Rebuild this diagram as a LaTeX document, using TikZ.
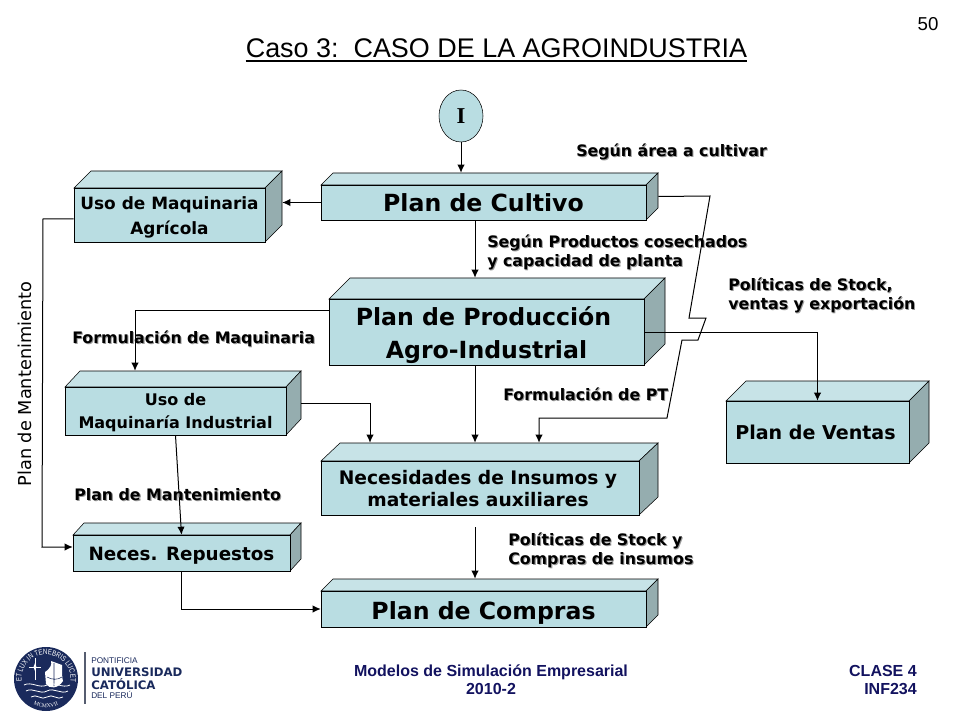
\documentclass[tikz,border=0pt]{standalone}
\usepackage{fontspec}
\setmainfont{DejaVu Sans}
\newfontfamily\arialf{Liberation Sans}
\newfontfamily\timesf{Liberation Serif}
\newfontfamily\lemaf[FakeStretch=0.8]{Liberation Sans}
\usetikzlibrary{shapes,arrows.meta,decorations.text}
\definecolor{cajafrente}{HTML}{B9DDE2}
\definecolor{cajatope}{HTML}{C7E3E7}
\definecolor{cajalado}{HTML}{95ADAF}
\definecolor{pucpazul}{HTML}{1A2A5C}
\definecolor{pieazul}{HTML}{12125F}
\tikzstyle{frente} = [rectangle,draw,fill=cajafrente,inner sep=0pt,align=center]
\tikzstyle{flecha} = [-{Latex[length=6pt,width=5.5pt]},line width=0.75pt]
\tikzstyle{rotulo} = [inner sep=0pt,align=left,anchor=west,font=\fontsize{11.85}{14.2}\selectfont\bfseries]
\tikzstyle{cajaG} = [font=\fontsize{17.7}{24.75}\selectfont\bfseries]
\tikzstyle{cajaP} = [font=\fontsize{12.7}{18.7}\selectfont\bfseries]
\tikzstyle{cajaQ} = [font=\fontsize{12}{17.3}\selectfont\bfseries]
\tikzstyle{cajaM} = [font=\fontsize{14}{16.5}\selectfont\bfseries]
\tikzstyle{pie} = [inner sep=0pt,align=center,text=pieazul,font=\fontsize{12}{13.5}\selectfont\arialf\bfseries]
\newcommand{\sombra}[1]{\leavevmode\rlap{\hspace{.8pt}\raisebox{-.8pt}{\textcolor{black!40}{#1}}}#1}
\newcommand{\bajar}[2]{\raisebox{-#1}[\height][\depth]{#2}}
\newcommand{\caja}[9][]{%
	\draw[fill=cajatope] (#3,#4) -- (#3+#7,#4-#8) -- (#5+#7,#4-#8) -- (#5,#4) -- cycle;
	\draw[fill=cajalado] (#5,#4) -- (#5+#7,#4-#8) -- (#5+#7,#6-#8) -- (#5,#6) -- cycle;
	\node[frente,minimum width={(#5-#3)*0.75pt},minimum height={(#6-#4)*0.75pt},#1](#2) at ({(#3+#5)/2},{(#4+#6)/2}) {#9};
	\node[inner sep=0pt,minimum width={(#5+#7-#3)*0.75pt},minimum height={(#6-#4+#8)*0.75pt}](#2x) at ({(#3+#5+#7)/2},{(#4+#6-#8)/2}) {};
}

\begin{document}
\begin{tikzpicture}[x=0.75pt,y=-0.75pt]
	\useasboundingbox (0,0) rectangle (960,720);

	\node[inner xsep=0pt,inner ysep=2.4pt,font=\fontsize{20.2}{24}\selectfont\arialf](titulo) at (496.5,48) {Caso 3:\ \ CASO DE LA AGROINDUSTRIA};
	\draw[line width=1.4pt] (titulo.south west) -- (titulo.south east);
	\node[font=\fontsize{14}{16}\selectfont\arialf](pagina) at (928,24) {50};

	\node[ellipse,draw,fill=cajafrente,inner sep=0pt,minimum width=33pt,minimum height=39pt,font=\fontsize{17}{18}\selectfont\timesf\bfseries](inicio) at (461,116) {I};

	\caja[cajaG]{cultivo}{321}{185}{646}{220}{12}{12}{Plan de Cultivo}
	\caja[cajaP]{agricola}{74}{188}{265}{242}{17}{17}{\bajar{1.5pt}{Uso de Maquinaria}\\\bajar{1.5pt}{Agrícola}}
	\caja[cajaG]{produccion}{329}{299}{644}{365}{21}{21}{\hspace*{-4.5pt}\bajar{2.2pt}{Plan de Producción}\\\bajar{2.2pt}{Agro-Industrial}}
	\caja[cajaQ]{industrial}{65}{387}{286}{435}{15}{16}{\bajar{1.5pt}{Uso de}\\\bajar{1.5pt}{Maquinaría Industrial}}
	\caja[cajaM,font=\fontsize{14.3}{18}\selectfont\bfseries]{ventas}{726}{401}{909}{463}{20}{20}{\hspace*{-3pt}Plan de Ventas}
	\caja[cajaM]{necesidades}{321}{461}{639}{515}{19}{18}{\hspace*{-3pt}\bajar{0.75pt}{Necesidades de Insumos y}\\\hspace*{-3pt}\bajar{0.75pt}{materiales auxiliares}}
	\caja[font=\fontsize{13.75}{17}\selectfont\bfseries]{repuestos}{73}{535}{290}{571}{11}{12}{\bajar{2.2pt}{Neces. Repuestos}}
	\caja[cajaG]{compras}{321}{591}{646}{627}{12}{12}{\bajar{3pt}{Plan de Compras}}

	\coordinate (ejeC) at (475,0);
	\coordinate (ejeN) at (370,0);
	\coordinate (ejeD) at (539,0);
	\coordinate (codoF) at (135,310);
	\coordinate (codoM) at (43,219);
	\coordinate (codoR) at (42,547);

	\draw[flecha] (inicio) -- (inicio |- cultivox.north);
	\draw[flecha] (cultivo.west) -- (cultivo.west -| agricolax.east);
	\draw[flecha] (ejeC |- cultivo.south) -- (ejeC |- produccionx.north);
	\draw[flecha] (ejeC |- produccion.south) -- (ejeC |- necesidadesx.north);
	\draw[flecha,shorten <=9pt] (ejeC |- necesidades.south) -- (ejeC |- comprasx.north);
	\draw[flecha] (produccion.east) -| (ventas.north);
	\draw[flecha] (cultivox.east) -- (710,196) -- (689,318) -- (706,318) -- (698,340) -- (682,340) -- (667,418) -- (ejeD |- 0,418) -- (ejeD |- necesidadesx.north);
	\draw[flecha] (codoF -| produccion.west) -- (codoF) -- (codoF |- industrialx.north);
	\draw[flecha] (industrialx.east) -| (ejeN |- necesidadesx.north);
	\draw[flecha] (industrial.south) -- (repuestos.north);
	\draw[flecha] (codoM -| agricola.west) -- (codoM) -- (codoR) -- (codoR -| repuestos.west);
	\draw[flecha] (repuestos.south) |- (compras.west);

	\node[rotulo](areacultivo) at (576,152.5) {\sombra{Según área a cultivar}};
	\node[rotulo](cosechados) at (487,253) {\sombra{Según Productos cosechados}\\\sombra{y capacidad de planta}};
	\node[rotulo](stockventas) at (728,296) {\sombra{Políticas de Stock,}\\\sombra{ventas y exportación}};
	\node[rotulo](formmaq) at (72,339.5) {\sombra{Formulación de Maquinaria}};
	\node[rotulo](formpt) at (503,395) {\sombra{Formulación de PT}};
	\node[rotulo](planmant) at (74,495) {\sombra{Plan de Mantenimiento}};
	\node[rotulo](stockcompras) at (508,550.5) {\sombra{Políticas de Stock y}\\\sombra{Compras de insumos}};
	\node[rotate=90,inner sep=0pt,font=\fontsize{13.3}{16}\selectfont](mantenimiento) at (25,384) {Plan de Mantenimiento};

	\node[pie](curso) at (491,680) {Modelos de Simulación Empresarial\\2010-2};
	\node[pie,align=right,anchor=east](clase) at (917,680) {CLASE 4\\INF234};

	\fill[pucpazul] (46,679) circle (32);
	\path[decorate,decoration={text along path,text align=center,text color=white,text={|\fontsize{5.7}{6}\selectfont\lemaf|ET LUX IN TENEBRIS LUCET}}] (46,679) ++(-195:24.5) arc[start angle=-195,end angle=15,radius=24.5];
	\path[decorate,decoration={text along path,text align=center,text color=white,text={|\fontsize{4.2}{5}\selectfont\timesf|MCMXVII}}] (46,679) ++(125:28.5) arc[start angle=125,end angle=55,radius=28.5];
	\draw[white,line width=0.35pt] (35,658) -- (35,680) (29,667) -- (41,667);
	\fill[white] (35,663) -- (36.5,667) -- (35,671) -- (33.5,667) -- cycle;
	\fill[white] (45,672) .. controls (51,668) and (52,664) .. (51,661) -- (62,665) .. controls (62,672) and (62,678) .. (63,681) .. controls (58,689) and (49,689) .. (46,684) -- cycle;
	\draw[pucpazul,line width=0.4pt] (54,663) -- (54,686) (47,677) .. controls (52,680) and (58,680) .. (62,677);
	\foreach \oy/\ox/\ancho in {685/24/46,691/26/42,697/31/32}
		\draw[white,line width=0.6pt] (\ox,\oy) .. controls (\ox+\ancho/6,\oy-4) and (\ox+\ancho/3,\oy+4) .. (\ox+\ancho/2,\oy) .. controls (\ox+2*\ancho/3,\oy-4) and (\ox+5*\ancho/6,\oy+4) .. (\ox+\ancho,\oy);
	\draw[black!45!pucpazul!70,line width=0.8pt] (85,652) -- (85,704);
	\node[inner sep=0pt,anchor=west,text=pucpazul,font=\fontsize{6.2}{7}\selectfont\arialf](pontificia) at (91,661) {PONTIFICIA};
	\node[inner sep=0pt,anchor=west,text=pucpazul,font=\fontsize{8.8}{10}\selectfont\bfseries](universidad) at (91,672) {UNIVERSIDAD};
	\node[inner sep=0pt,anchor=west,text=pucpazul,font=\fontsize{8.8}{10}\selectfont\bfseries](catolica) at (91,684) {CATÓLICA};
	\node[inner sep=0pt,anchor=west,text=pucpazul,font=\fontsize{6.2}{7}\selectfont\arialf](delperu) at (91,695) {DEL PERÚ};
\end{tikzpicture}
\end{document}
